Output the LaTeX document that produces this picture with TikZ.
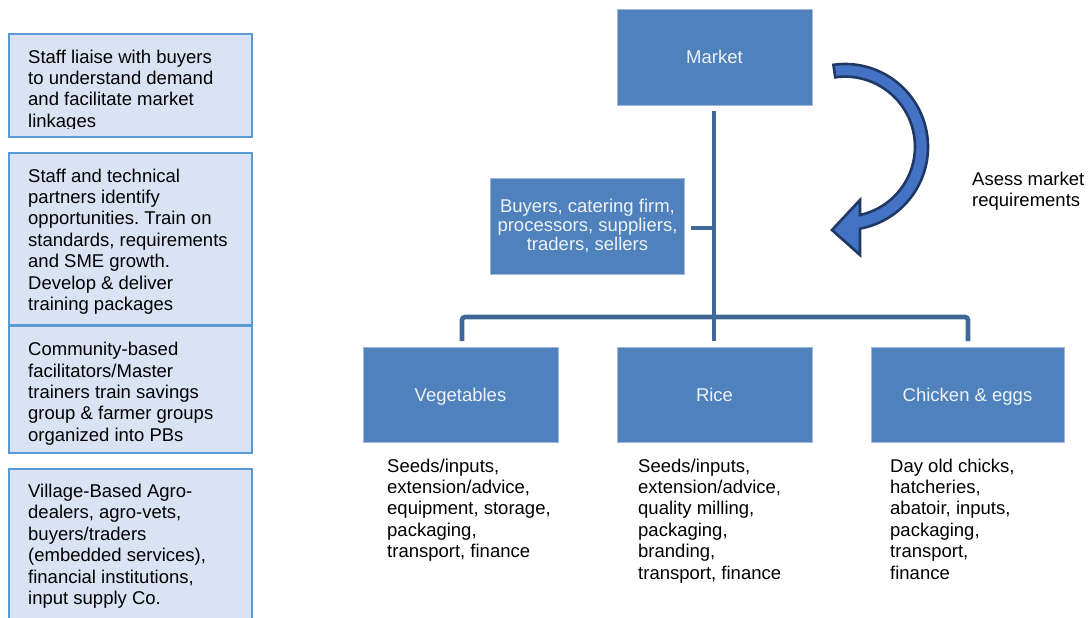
\documentclass[tikz,border=0pt]{standalone}
\usepackage{fontspec}
\setmainfont{Liberation Sans}
\frenchspacing
\definecolor{boxblue}{HTML}{4F81BD}
\definecolor{boxedge}{HTML}{9DB8DA}
\definecolor{linkblue}{HTML}{3E6898}
\definecolor{sidefill}{HTML}{DAE3F3}
\definecolor{sideedge}{HTML}{5B9BD5}
\definecolor{arrowfill}{HTML}{4472C4}
\definecolor{arrowedge}{HTML}{1F3864}
\definecolor{boxtext}{HTML}{EEF2F8}
\begin{document}
\begin{tikzpicture}[x=1pt,y=-1pt,
  sidebox/.style={draw=sideedge,fill=sidefill,line width=1.6pt},
  bluebox/.style={draw=boxedge,fill=boxblue,line width=0.6pt,inner sep=0,
    text=boxtext,align=center,font=\fontsize{18.5}{19}\selectfont},
  oneline/.style={text height=13.3pt,text depth=0pt},
  txt/.style={anchor=north west,inner sep=0,align=left,
    font=\fontsize{18.5}{21.4}\selectfont},
  link/.style={draw=linkblue,line width=4.6pt,rounded corners=3pt}]
\useasboundingbox (0,0) rectangle (1088,618);
% left side boxes
\draw[sidebox] (9,34) rectangle (252,137);
\draw[sidebox] (9,153) rectangle (252,325);
\draw[sidebox] (9,326) rectangle (252,453);
\draw[sidebox] (9,469) rectangle (252,640);
\begin{scope}
\clip (0,30) rectangle (260,128);
\node[txt] (s1) at (28,47.9) {\strut Staff liaise with buyers\\to understand demand\\and facilitate market\\linkages};
\end{scope}
\node[txt] (s2) at (28,167) {\strut Staff and technical\\partners identify\\opportunities. Train on\\standards, requirements\\and SME growth.\\Develop \& deliver\\training packages};
\node[txt] (s3) at (28,340.5) {\strut Community-based\\facilitators/Master\\trainers train savings\\group \& farmer groups\\organized into PBs};
\node[txt] (s4) at (28,482.3) {\strut Village-Based Agro-\\dealers, agro-vets,\\buyers/traders\\(embedded services),\\financial institutions,\\input supply Co.};
% blue boxes
\node[bluebox,oneline,minimum width=195pt,minimum height=96pt] (market) at (714.5,57) {Market};
\node[bluebox,minimum width=194pt,minimum height=96pt] (buyers) at (587.5,226) {Buyers, catering firm,\\processors, suppliers,\\traders, sellers};
\node[bluebox,oneline,minimum width=195pt,minimum height=95pt] (veg) at (460.5,394.5) {Vegetables};
\node[bluebox,oneline,minimum width=195pt,minimum height=95pt] (rice) at (714.5,394.5) {Rice};
\node[bluebox,oneline,minimum width=193pt,minimum height=95pt] (chick) at (967.5,394.5) {Chicken \& eggs};
% connectors
\coordinate (top) at (714,111);
\coordinate (hub) at (714,317);
\coordinate (vegtop) at (462,341);
\coordinate (ricetop) at (714,341);
\coordinate (chicktop) at (968,341);
\coordinate (branch) at (714,228);
\coordinate (buyend) at (691,228);
\draw[link,rounded corners=0] (top) -- (ricetop);
\draw[link,rounded corners=0] (buyend) -- (branch);
\draw[link] (vegtop) |- (hub) -| (chicktop);
% curved arrow
\filldraw[fill=arrowfill,draw=arrowedge,line width=2.6pt,line join=miter]
  (845,147) ++(-98:83) arc[start angle=-98,end angle=79.6,radius=83]
  -- (860,255) -- (832,230) -- (860,200) -- (860,215)
  arc[start angle=77.6,end angle=-98,radius=70] -- cycle;
\node[txt] (assess) at (972,169.9) {\strut Asess market\\requirements};
% lists
\node[txt] (l1) at (387,456.9) {\strut Seeds/inputs,\\extension/advice,\\equipment, storage,\\packaging,\\transport, finance};
\node[txt] (l2) at (638,456.9) {\strut Seeds/inputs,\\extension/advice,\\quality milling,\\packaging,\\branding,\\transport, finance};
\node[txt] (l3) at (890,456.9) {\strut Day old chicks,\\hatcheries,\\abatoir, inputs,\\packaging,\\transport,\\finance};
\end{tikzpicture}
\end{document}
